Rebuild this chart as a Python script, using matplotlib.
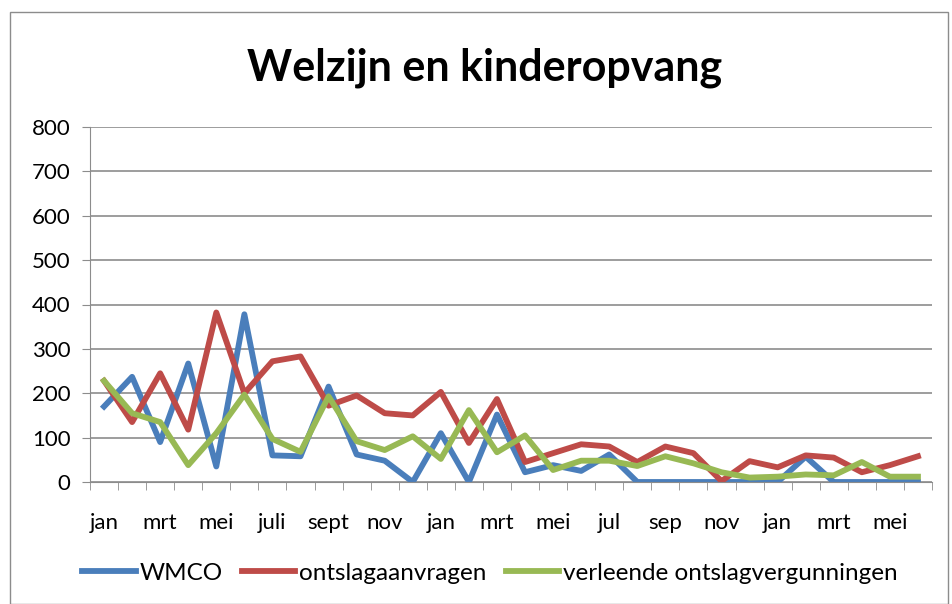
import matplotlib.pyplot as plt
from matplotlib.patches import Rectangle

plt.rcParams['font.family'] = ['Lato', 'DejaVu Sans']

maanden = ['jan', 'mrt', 'mei', 'juli', 'sept', 'nov', 'jan', 'mrt',
           'mei', 'jul', 'sep', 'nov', 'jan', 'mrt', 'mei']

wmco = [170, 237, 90, 267, 35, 378, 60, 58, 215, 62, 48, 0, 110, 0, 152,
        22, 38, 25, 62, 0, 0, 0, 0, 0, 0, 57, 0, 0, 0, 0]
aanvragen = [228, 135, 245, 118, 382, 200, 272, 283, 172, 195, 155, 150, 203, 88, 187,
             45, 65, 85, 80, 45, 80, 65, 2, 47, 33, 60, 55, 22, 38, 58]
vergunningen = [228, 155, 135, 38, 110, 197, 97, 68, 193, 92, 72, 103, 52, 162, 67,
                105, 27, 48, 48, 36, 58, 42, 22, 10, 12, 17, 15, 45, 12, 12]

x = list(range(len(wmco)))

fig = plt.figure(figsize=(9.52, 6.04), dpi=100)
ax = fig.add_axes([90/952, 1-482/604, (932-90)/952, (482-127)/604])

# rand rond de grafiek
fig.patches.append(Rectangle((10/952, 0), 938/952, 592/604, transform=fig.transFigure,
                             fill=False, edgecolor='#8c8c8c', linewidth=1))

lw = 4.2
ax.plot(x, wmco, color='#4A7EBB', linewidth=lw, label='WMCO', solid_joinstyle='round')
ax.plot(x, aanvragen, color='#BE4B48', linewidth=lw, label='ontslagaanvragen', solid_joinstyle='round')
ax.plot(x, vergunningen, color='#98B954', linewidth=lw, label='verleende ontslagvergunningen', solid_joinstyle='round')

ax.set_xlim(-0.5, len(x) - 0.5)
ax.set_ylim(0, 800)
ax.set_yticks(range(0, 801, 100))
ax.set_xticks(range(0, len(x), 2))
ax.set_xticklabels(maanden)
ax.set_xticks([i - 0.5 for i in range(len(x) + 1)], minor=True)
ax.tick_params(axis='x', which='major', length=0, labelsize=16, pad=22)
ax.tick_params(axis='x', which='minor', length=6, color='#8c8c8c', direction='out')
ax.tick_params(axis='y', length=6, color='#8c8c8c', labelsize=16, pad=8)

ax.grid(axis='y', color='#8c8c8c', linewidth=1.2)
ax.set_axisbelow(True)
for s in ['top', 'right']:
    ax.spines[s].set_visible(False)
ax.spines['left'].set_color('#8c8c8c')
ax.spines['bottom'].set_color('#8c8c8c')

fig.text(485/952, 1-68/604, 'Welzijn en kinderopvang', ha='center', va='center',
         fontsize=31, fontweight='bold')

fig.legend(loc='center', bbox_to_anchor=(490/952, 1-573/604), ncol=3, frameon=False,
           fontsize=17.5, handlelength=2.2, handletextpad=0.15, columnspacing=0.8)

fig.savefig('out.png', dpi=100)
